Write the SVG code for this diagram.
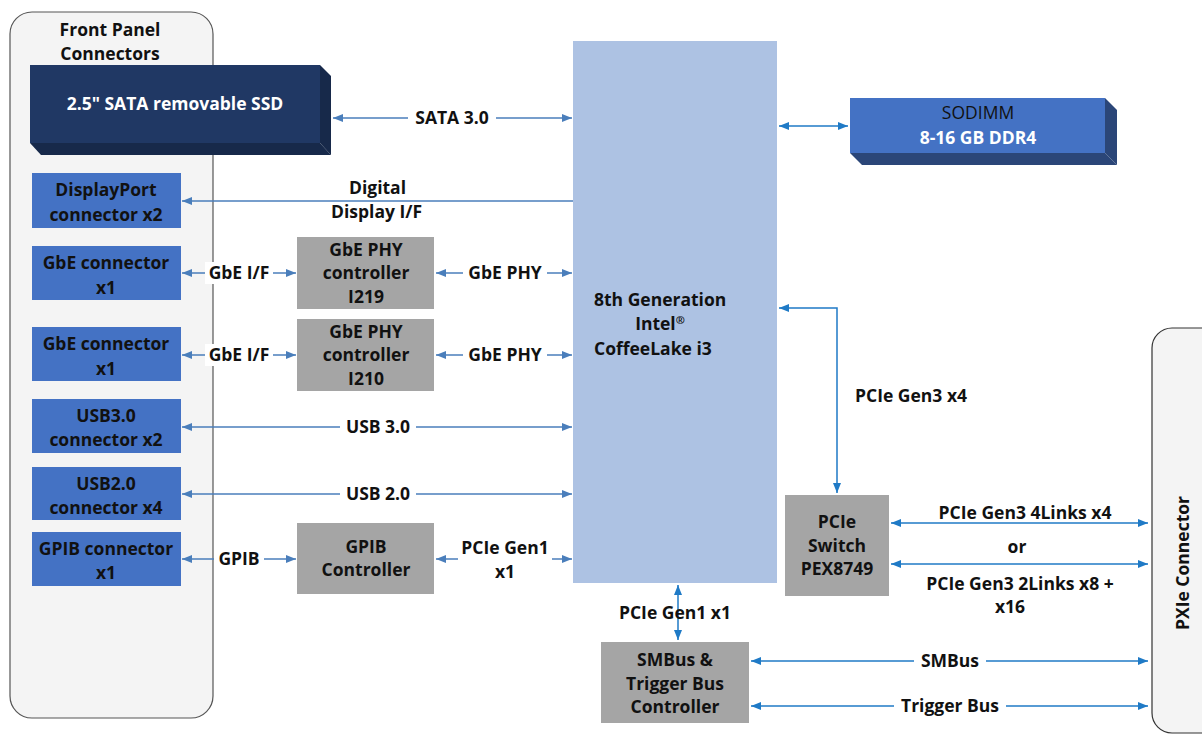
<svg xmlns="http://www.w3.org/2000/svg" width="1202" height="736" viewBox="0 0 1202 736">
<defs>
<style>
.t{font-family:"Open Sans","Noto Sans","Liberation Sans",sans-serif;font-weight:bold;font-size:17.5px;text-anchor:middle;fill:#111}
.w{fill:#fff}
.n{font-weight:normal}
.s{text-anchor:start}
.blue{fill:#4472c4}
.gray{fill:#a5a5a5}
.c1{stroke:#4a7ebb;stroke-width:1.5;fill:none;marker-start:url(#a1);marker-end:url(#a1)}
.c2{stroke:#1f7ac6;stroke-width:1.5;fill:none;marker-start:url(#a2);marker-end:url(#a2)}
.bg{fill:#fff}
</style>
<marker id="a1" viewBox="0 0 10 8" refX="10" refY="4" markerWidth="11" markerHeight="8" markerUnits="userSpaceOnUse" orient="auto-start-reverse"><path d="M0,0 L10,4 L0,8 z" fill="#4a7ebb"/></marker>
<marker id="a2" viewBox="0 0 10 8" refX="10" refY="4" markerWidth="11" markerHeight="8" markerUnits="userSpaceOnUse" orient="auto-start-reverse"><path d="M0,0 L10,4 L0,8 z" fill="#1f7ac6"/></marker>
</defs>
<rect width="1202" height="736" fill="#fff"/>

<g id="front-panel">
<rect x="10" y="12" width="203" height="706" rx="22" fill="#f4f4f4" stroke="#555" stroke-width="1.2"/>
<text class="t" x="110" y="36">Front Panel</text>
<text class="t" x="110" y="60">Connectors</text>
</g>

<g id="pxie">
<rect x="1152" y="328" width="80" height="405" rx="20" fill="#f4f4f4" stroke="#333" stroke-width="1.2"/>
<text class="t" transform="translate(1189,563) rotate(-90)">PXIe Connector</text>
</g>

<g id="ssd">
<polygon points="320,65 331,76 331,155 320,143" fill="#17294a"/>
<polygon points="30,143 41,155 331,155 320,143" fill="#17294a"/>
<rect x="30" y="65" width="290" height="78" fill="#203864"/>
<text class="t w" x="175" y="110">2.5" SATA removable SSD</text>
</g>

<g id="sodimm">
<polygon points="1105,98 1117,110 1117,165 1105,153" fill="#2b4678"/>
<polygon points="850,153 862,165 1117,165 1105,153" fill="#2b4678"/>
<rect x="850" y="98" width="255" height="55" fill="#4472c4"/>
<text class="t n" x="978" y="119">SODIMM</text>
<text class="t w" x="978" y="144">8-16 GB DDR4</text>
</g>

<g id="cpu">
<rect x="573" y="41" width="204" height="542" fill="#adc2e3"/>
<text class="t s" x="594" y="306">8th Generation</text>
<text class="t" x="660" y="330">Intel<tspan font-size="11" dy="-6">®</tspan></text>
<text class="t s" x="594" y="355">CoffeeLake i3</text>
</g>

<g id="displayport"><rect class="blue" x="32" y="173" width="149" height="55"/>
<text class="t" x="106" y="196">DisplayPort</text><text class="t" x="106" y="221">connector x2</text></g>
<g id="gbe1"><rect class="blue" x="32" y="246" width="149" height="54"/>
<text class="t" x="106" y="269">GbE connector</text><text class="t" x="106" y="294">x1</text></g>
<g id="gbe2"><rect class="blue" x="32" y="327" width="149" height="54"/>
<text class="t" x="106" y="350">GbE connector</text><text class="t" x="106" y="375">x1</text></g>
<g id="usb3"><rect class="blue" x="32" y="399" width="149" height="54"/>
<text class="t" x="106" y="422">USB3.0</text><text class="t" x="106" y="446">connector x2</text></g>
<g id="usb2"><rect class="blue" x="32" y="467" width="149" height="53"/>
<text class="t" x="106" y="490">USB2.0</text><text class="t" x="106" y="514">connector x4</text></g>
<g id="gpib"><rect class="blue" x="32" y="532" width="149" height="54"/>
<text class="t" x="106" y="555">GPIB connector</text><text class="t" x="106" y="579">x1</text></g>

<g id="phy-i219"><rect class="gray" x="297" y="237" width="137" height="72"/>
<text class="t" x="366" y="256">GbE PHY</text><text class="t" x="366" y="279">controller</text><text class="t" x="366" y="303">I219</text></g>
<g id="phy-i210"><rect class="gray" x="297" y="319" width="137" height="72"/>
<text class="t" x="366" y="338">GbE PHY</text><text class="t" x="366" y="361">controller</text><text class="t" x="366" y="385">I210</text></g>
<g id="gpib-ctrl"><rect class="gray" x="297" y="523" width="137" height="71"/>
<text class="t" x="366" y="553">GPIB</text><text class="t" x="366" y="576">Controller</text></g>
<g id="pcie-switch"><rect class="gray" x="785" y="495" width="104" height="101"/>
<text class="t" x="837" y="528">PCIe</text><text class="t" x="837" y="552">Switch</text><text class="t" x="837" y="575">PEX8749</text></g>
<g id="smbus-ctrl"><rect class="gray" x="601" y="642" width="148" height="81"/>
<text class="t" x="675" y="666">SMBus &amp;</text><text class="t" x="675" y="690">Trigger Bus</text><text class="t" x="675" y="713">Controller</text></g>

<g id="connectors">
<line class="c1" x1="333" y1="118" x2="572" y2="118"/>
<rect class="bg" x="408" y="106" width="88" height="22"/>
<text class="t" x="452" y="124">SATA 3.0</text>

<line class="c1" x1="573" y1="201" x2="182" y2="201" style="marker-start:none"/>
<text class="t s" x="349" y="194">Digital</text>
<text class="t s" x="331" y="218">Display I/F</text>

<line class="c1" x1="182" y1="273" x2="296" y2="273"/>
<rect class="bg" x="205" y="262" width="68" height="22"/>
<text class="t" x="239" y="279">GbE I/F</text>
<line class="c1" x1="436" y1="273" x2="572" y2="273"/>
<rect class="bg" x="463" y="262" width="84" height="22"/>
<text class="t" x="505" y="279">GbE PHY</text>

<line class="c1" x1="182" y1="355" x2="296" y2="355"/>
<rect class="bg" x="205" y="344" width="68" height="22"/>
<text class="t" x="239" y="361">GbE I/F</text>
<line class="c1" x1="436" y1="355" x2="572" y2="355"/>
<rect class="bg" x="463" y="344" width="84" height="22"/>
<text class="t" x="505" y="361">GbE PHY</text>

<line class="c1" x1="182" y1="427" x2="572" y2="427"/>
<rect class="bg" x="340" y="416" width="76" height="22"/>
<text class="t" x="378" y="433">USB 3.0</text>

<line class="c1" x1="182" y1="494" x2="572" y2="494"/>
<rect class="bg" x="340" y="483" width="76" height="22"/>
<text class="t" x="378" y="500">USB 2.0</text>

<line class="c1" x1="182" y1="559" x2="296" y2="559"/>
<rect class="bg" x="214" y="548" width="50" height="22"/>
<text class="t" x="239" y="565">GPIB</text>

<line class="c1" x1="436" y1="559" x2="572" y2="559"/>
<rect class="bg" x="458" y="536" width="94" height="46"/>
<text class="t" x="505" y="554">PCIe Gen1</text>
<text class="t" x="505" y="578">x1</text>

<line class="c2" x1="779" y1="126" x2="848" y2="126"/>

<path class="c2" d="M779,308 H837 V493"/>
<text class="t s" x="855" y="402">PCIe Gen3 x4</text>

<line class="c2" x1="891" y1="523" x2="1148" y2="523"/>
<text class="t" x="1025" y="519">PCIe Gen3 4Links x4</text>
<text class="t" x="1017" y="553">or</text>
<line class="c2" x1="891" y1="564" x2="1148" y2="564"/>
<text class="t" x="1020" y="590">PCIe Gen3 2Links x8 +</text>
<text class="t" x="1010" y="613">x16</text>

<line class="c2" x1="678" y1="585" x2="678" y2="640"/>
<text class="t" x="675" y="619">PCIe Gen1 x1</text>

<line class="c2" x1="751" y1="661" x2="1148" y2="661"/>
<rect class="bg" x="914" y="650" width="72" height="22"/>
<text class="t" x="950" y="667">SMBus</text>

<line class="c2" x1="751" y1="706" x2="1148" y2="706"/>
<rect class="bg" x="894" y="695" width="112" height="22"/>
<text class="t" x="950" y="712">Trigger Bus</text>
</g>
</svg>
